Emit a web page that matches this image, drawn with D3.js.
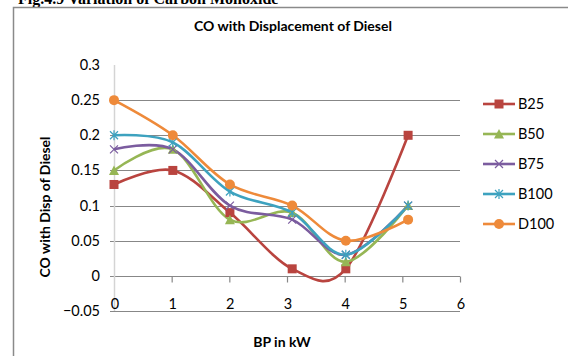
<!DOCTYPE html>
<html>
<head>
<meta charset="utf-8">
<script src="https://cdn.jsdelivr.net/npm/d3@7/dist/d3.min.js"></script>
<style>
  html, body { margin: 0; padding: 0; background: #fff; }
  svg { display: block; }
  text { font-family: Lato, "Open Sans", sans-serif; fill: #000; }
</style>
</head>
<body>
<svg id="chart" width="568" height="356"></svg>
<script>
// Brake power (kW) at which CO was measured
const bp = [0, 1.02, 2.01, 3.09, 4.02, 5.1];

// CO readings for each blend
const seriesNames = ["B25", "B50", "B75", "B100", "D100"];
const b25  = [0.13, 0.15, 0.09, 0.01, 0.01, 0.20];
const b50  = [0.15, 0.18, 0.08, 0.09, 0.02, 0.10];
const b75  = [0.18, 0.18, 0.10, 0.08, 0.03, 0.10];
const b100 = [0.20, 0.19, 0.12, 0.09, 0.03, 0.10];
const d100 = [0.25, 0.20, 0.13, 0.10, 0.05, 0.08];

const yTicks = [-0.05, 0, 0.05, 0.1, 0.15, 0.2, 0.25, 0.3];
const xTicks = [0, 1, 2, 3, 4, 5, 6];

const colors  = ["#b9443f", "#96b655", "#7b5c9f", "#3da2bf", "#ee8a3a"];
const symbols = ["square", "triangle", "cross", "star", "circle"];
const values  = [b25, b50, b75, b100, d100];

const svg = d3.select("#chart");

const x = d3.scaleLinear().domain([0, 6]).range([114, 460]);
const y = d3.scaleLinear().domain([-0.05, 0.3]).range([311, 65]);

// Caption running off the top edge
svg.append("text")
  .attr("x", 18).attr("y", 4)
  .style("font-family", "'Liberation Serif', serif")
  .style("font-weight", "bold")
  .style("font-size", "16px")
  .text("Fig.4.9  Variation of Carbon Monoxide");

// Chart frame
svg.append("path")
  .attr("d", "M13.5,356 V7.5 H568")
  .attr("fill", "none").attr("stroke", "#8a8a8a").attr("stroke-width", 1.5);

// Title
svg.append("text")
  .attr("x", 293).attr("y", 31)
  .attr("text-anchor", "middle")
  .style("font-weight", "bold").style("font-size", "14px")
  .text("CO with Displacement of Diesel");

// Horizontal gridlines
const grid = svg.append("g");
grid.selectAll("line")
  .data(yTicks.filter(v => v < 0.3))
  .join("line")
  .attr("x1", 110).attr("x2", 460)
  .attr("y1", d => Math.round(y(d)) + 0.5)
  .attr("y2", d => Math.round(y(d)) + 0.5)
  .attr("stroke", "#878787").attr("stroke-width", 1.2);

// Vertical value axis line
svg.append("line")
  .attr("x1", x(0) + 0.5).attr("x2", x(0) + 0.5)
  .attr("y1", y(0.3)).attr("y2", y(-0.05))
  .attr("stroke", "#d4d4d4").attr("stroke-width", 1.5);

// Y tick labels
svg.append("g").selectAll("text")
  .data(yTicks)
  .join("text")
  .attr("x", 100).attr("y", d => y(d) + 5)
  .attr("text-anchor", "end")
  .style("font-size", "14.5px")
  .text(d => d3.format("")(d));

// Category axis sits at y = 0 with ticks pointing down
const xAxis = d3.axisBottom(x).tickValues(xTicks).tickSize(6).tickFormat("");
const xg = svg.append("g")
  .attr("transform", `translate(0,${Math.round(y(0)) + 0.5})`)
  .call(xAxis);
xg.select(".domain").remove();
xg.selectAll(".tick line").attr("stroke", "#878787").attr("stroke-width", 1.2)
  .filter(d => d === 0).remove();

// X tick labels rest on the bottom gridline
svg.append("g").selectAll("text")
  .data(xTicks)
  .join("text")
  .attr("x", d => x(d) + 1).attr("y", 309)
  .attr("text-anchor", "middle")
  .style("font-size", "14.5px")
  .text(d => d);

// Axis titles
svg.append("text")
  .attr("x", 282).attr("y", 347)
  .attr("text-anchor", "middle")
  .style("font-weight", "bold").style("font-size", "14px")
  .text("BP in kW");

svg.append("text")
  .attr("transform", "translate(50,207) rotate(-90)")
  .attr("text-anchor", "middle")
  .style("font-weight", "bold").style("font-size", "14px")
  .text("CO with Disp of Diesel");

// Marker drawing
function drawMarker(g, type, color) {
  if (type === "square") {
    g.append("rect").attr("x", -4.5).attr("y", -4.5).attr("width", 9).attr("height", 9)
      .attr("fill", color);
  } else if (type === "triangle") {
    g.append("path").attr("d", "M0,-5 L5,4.5 L-5,4.5 Z").attr("fill", color);
  } else if (type === "circle") {
    g.append("circle").attr("r", 5).attr("fill", color);
  } else if (type === "cross") {
    g.append("path").attr("d", "M-4,-4 L4,4 M-4,4 L4,-4")
      .attr("stroke", color).attr("stroke-width", 1.2).attr("fill", "none");
  } else if (type === "star") {
    g.append("path").attr("d", "M-4,-4 L4,4 M-4,4 L4,-4 M0,-5 L0,5")
      .attr("stroke", color).attr("stroke-width", 1.2).attr("fill", "none");
  }
}

// Smoothed series lines
const line = d3.line()
  .x((d, i) => x(bp[i]))
  .y(d => y(d))
  .curve(d3.curveCardinal.tension(0));

const series = svg.append("g");
values.forEach((vals, s) => {
  series.append("path")
    .datum(vals)
    .attr("d", line)
    .attr("fill", "none")
    .attr("stroke", colors[s])
    .attr("stroke-width", 2.6)
    .attr("stroke-linejoin", "round");
});
values.forEach((vals, s) => {
  vals.forEach((v, i) => {
    const g = series.append("g").attr("transform", `translate(${x(bp[i])},${y(v)})`);
    drawMarker(g, symbols[s], colors[s]);
  });
});

// Legend
const legendY = [104, 134, 164, 194, 224];
const legend = svg.append("g");
seriesNames.forEach((name, s) => {
  const g = legend.append("g").attr("transform", `translate(0,${legendY[s]})`);
  g.append("line").attr("x1", 483).attr("x2", 515).attr("y1", 0).attr("y2", 0)
    .attr("stroke", colors[s]).attr("stroke-width", 2.6);
  const m = g.append("g").attr("transform", "translate(499,0)");
  drawMarker(m, symbols[s], colors[s]);
  g.append("text").attr("x", 518).attr("y", 5)
    .style("font-size", "14.5px")
    .text(name);
});
</script>
</body>
</html>
